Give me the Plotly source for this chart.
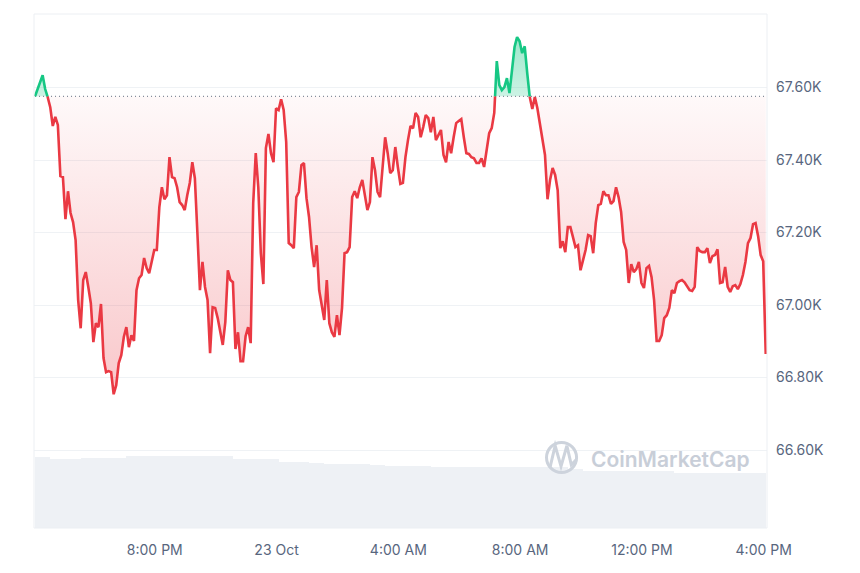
import pandas as pd
import plotly.graph_objects as go

# BTC price, 5-minute steps, 22 Oct 16:04 -> 23 Oct 16:04
start = "2024-10-22 16:04:00"
price = [
    67576, 67596, 67615, 67634, 67596, 67574, 67546, 67494, 67519, 67497,
    67356, 67353, 67237, 67314, 67254, 67229, 67179, 67014, 66936, 67069,
    67091, 67050, 67005, 66898, 66950, 66939, 67003, 66854, 66815, 66818,
    66815, 66754, 66779, 66840, 66862, 66912, 66939, 66884, 66917, 66901,
    67041, 67074, 67083, 67130, 67102, 67088, 67119, 67152, 67152, 67270,
    67325, 67292, 67303, 67408, 67353, 67350, 67325, 67284, 67276, 67262,
    67303, 67337, 67394, 67350, 67199, 67041, 67119, 67050, 67014, 66867,
    66994, 66992, 66964, 66931, 66890, 66953, 67096, 67069, 67063, 66879,
    66925, 66845, 66845, 66914, 66939, 66895, 67281, 67419, 67325, 67143,
    67058, 67433, 67472, 67419, 67394, 67543, 67538, 67568, 67538, 67450,
    67171, 67165, 67157, 67298, 67312, 67386, 67392, 67295, 67243, 67160,
    67105, 67165, 67041, 67000, 66959, 67069, 66950, 66925, 66912, 66972,
    66917, 66992, 67143, 67146, 67160, 67298, 67314, 67295, 67325, 67345,
    67303, 67262, 67284, 67408, 67372, 67312, 67298, 67372, 67463, 67419,
    67364, 67372, 67436, 67381, 67334, 67337, 67408, 67455, 67494, 67488,
    67530, 67519, 67463, 67491, 67524, 67516, 67477, 67519, 67455, 67469,
    67483, 67414, 67394, 67450, 67419, 67463, 67502, 67508, 67513, 67463,
    67419, 67417, 67408, 67405, 67392, 67392, 67405, 67381, 67428, 67474,
    67488, 67530, 67673, 67607, 67593, 67601, 67626, 67585, 67657, 67712,
    67739, 67728, 67695, 67714, 67640, 67574, 67541, 67574, 67543, 67502,
    67455, 67414, 67292, 67345, 67378, 67359, 67317, 67157, 67176, 67146,
    67215, 67215, 67188, 67160, 67165, 67096, 67124, 67152, 67193, 67190,
    67143, 67226, 67276, 67279, 67314, 67303, 67303, 67279, 67287, 67325,
    67298, 67257, 67174, 67152, 67061, 67113, 67091, 67099, 67119, 67061,
    67047, 67102, 67108, 67077, 67014, 66901, 66901, 66917, 66964, 66972,
    66992, 67041, 67033, 67061, 67066, 67069, 67063, 67050, 67041, 67039,
    67050, 67160, 67149, 67146, 67146, 67157, 67116, 67135, 67138, 67154,
    67061, 67063, 67105, 67050, 67036, 67052, 67055, 67044, 67058, 67083,
    67119, 67171, 67185, 67223, 67226, 67190, 67138, 67121, 66865,
]

# 24h volume (billions USD), half-hour buckets
volume_b = [
    35.3, 34.5, 34.5, 35.1, 35.1, 35.1, 36.0, 36.0, 36.0, 36.0,
    36.0, 36.0, 36.0, 34.3, 34.3, 34.3, 33.2, 32.8, 32.4, 31.9,
    31.9, 31.9, 31.5, 31.0, 31.0, 31.0, 30.7, 30.7, 30.7, 30.7,
    30.7, 30.7, 30.7, 30.7, 30.7, 29.5, 28.3, 28.3, 28.3, 28.3,
    28.3, 28.3, 27.6, 27.6, 27.6, 27.6, 27.6, 27.6,
]

x_tick_times = ["2024-10-22 20:00", "2024-10-23 00:00", "2024-10-23 04:00",
                "2024-10-23 08:00", "2024-10-23 12:00", "2024-10-23 16:00"]
x_tick_text = ["8:00 PM", "23 Oct", "4:00 AM", "8:00 AM", "12:00 PM", "4:00 PM"]
y_tick_vals = [66600, 66800, 67000, 67200, 67400, 67600]
y_tick_text = ["66.60K", "66.80K", "67.00K", "67.20K", "67.40K", "67.60K"]

RED = "#ea3943"
GREEN = "#16c784"

t = pd.date_range(start, periods=len(price), freq="5min")
base = price[0]

# split the line where it crosses the opening price so colours switch cleanly
ts, ps = [t[0]], [price[0]]
for i in range(1, len(price)):
    a, b = price[i - 1], price[i]
    if (a - base) * (b - base) < 0:
        f = (base - a) / (b - a)
        ts.append(t[i - 1] + (t[i] - t[i - 1]) * f)
        ps.append(base)
    ts.append(t[i])
    ps.append(b)

base_line = [base] * len(ts)
below = [min(p, base) for p in ps]
above = [max(p, base) for p in ps]
red_line = [p if p <= base else None for p in ps]
green_line = [p if p >= base else None for p in ps]

vol_t = pd.date_range(start, periods=len(volume_b), freq="30min") + pd.Timedelta(minutes=15)

fig = go.Figure()

fig.add_trace(go.Bar(
    x=vol_t, y=volume_b, yaxis="y2",
    width=30 * 60 * 1000,
    marker=dict(color="#eef1f5", line_width=0),
    hoverinfo="skip",
))

# red area under the opening price
fig.add_trace(go.Scatter(x=ts, y=base_line, mode="lines", line=dict(width=0), hoverinfo="skip"))
fig.add_trace(go.Scatter(
    x=ts, y=below, mode="lines", line=dict(width=0), fill="tonexty",
    fillgradient=dict(type="vertical", start=66700, stop=base,
                      colorscale=[[0, "rgba(234,57,67,0.30)"], [1, "rgba(234,57,67,0.03)"]]),
    hoverinfo="skip",
))
# green area over the opening price
fig.add_trace(go.Scatter(x=ts, y=base_line, mode="lines", line=dict(width=0), hoverinfo="skip"))
fig.add_trace(go.Scatter(
    x=ts, y=above, mode="lines", line=dict(width=0), fill="tonexty",
    fillgradient=dict(type="vertical", start=base, stop=67740,
                      colorscale=[[0, "rgba(22,199,132,0.22)"], [1, "rgba(22,199,132,0.42)"]]),
    hoverinfo="skip",
))

fig.add_trace(go.Scatter(
    x=[ts[0], ts[-1]], y=[base, base], mode="lines",
    line=dict(color="#848d9b", width=1.2, dash="1px,3px"), hoverinfo="skip",
))

fig.add_trace(go.Scatter(x=ts, y=red_line, mode="lines",
                         line=dict(color=RED, width=2.6), connectgaps=False))
fig.add_trace(go.Scatter(x=ts, y=green_line, mode="lines",
                         line=dict(color=GREEN, width=2.6), connectgaps=False))

# CoinMarketCap watermark
fig.add_shape(type="circle", xref="paper", yref="paper",
              x0=0.7197 - 0.0205, x1=0.7197 + 0.0205, y0=0.1372 - 0.0292, y1=0.1372 + 0.0292,
              line=dict(color="#cdd3dc", width=3))
fig.add_shape(type="path", xref="paper", yref="paper",
              path="M 0.7040,0.1180 L 0.7110,0.1600 L 0.7190,0.1200 L 0.7270,0.1600 "
                   "L 0.7330,0.1230 L 0.7400,0.1330",
              line=dict(color="#cdd3dc", width=3))
fig.add_annotation(x=0.757, y=0.1323, xref="paper", yref="paper",
                   xanchor="left", yanchor="middle", showarrow=False,
                   text="CoinMarketCap",
                   font=dict(family="Inter, sans-serif", size=21, color="#c8ced8", weight=600))

# plot frame
fig.add_shape(type="rect", xref="paper", yref="paper", x0=0, x1=1, y0=0, y1=1,
              line=dict(color="#eceff3", width=1), layer="above")

x_start = t[0] - pd.Timedelta(minutes=2)
x_end = t[-1] + pd.Timedelta(minutes=2, seconds=30)

# the page body adds an 8px offset, so the figure is sized to 852x565
fig.update_layout(
    width=852, height=565,
    margin=dict(l=26, r=93, t=6, b=45),
    paper_bgcolor="white", plot_bgcolor="white",
    showlegend=False, bargap=0,
    font=dict(family="Inter, sans-serif", size=14, color="#58667e"),
    xaxis=dict(type="date", range=[x_start, x_end],
               tickvals=x_tick_times, ticktext=x_tick_text,
               showgrid=False, zeroline=False, ticks="", ticklabelstandoff=12),
    yaxis=dict(side="right", range=[66385, 67803],
               tickvals=y_tick_vals, ticktext=y_tick_text,
               gridcolor="#eff2f5", gridwidth=1, zeroline=False, ticks="",
               ticklabelstandoff=8),
    yaxis2=dict(overlaying="y", range=[0, 257], visible=False),
)

fig.write_html("out.html")
